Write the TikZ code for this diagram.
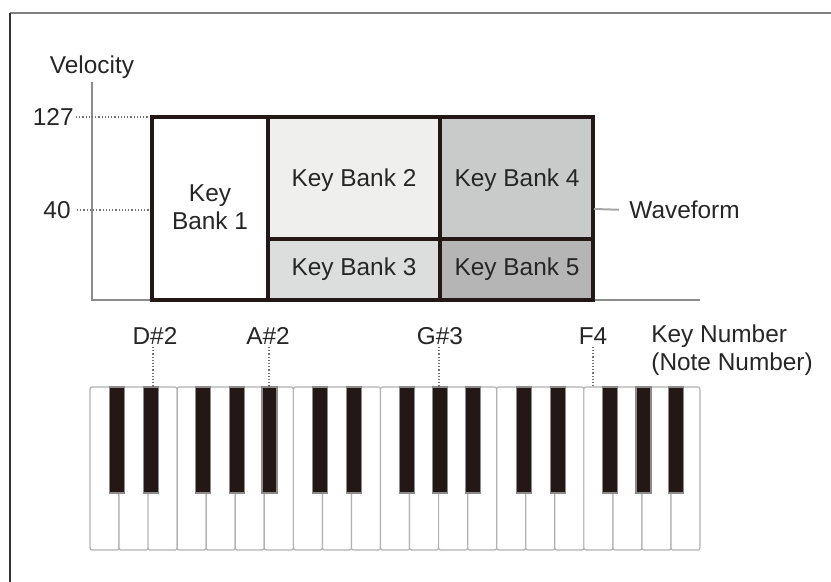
\documentclass[tikz,border=0pt]{standalone}
\usepackage{fontspec}
\setmainfont{Liberation Sans}
\usetikzlibrary{positioning}
\definecolor{inkblack}{HTML}{231815}
\definecolor{bankB}{HTML}{EFEFEE}
\definecolor{bankC}{HTML}{DCDDDD}
\definecolor{bankD}{HTML}{C9CACA}
\definecolor{bankE}{HTML}{B5B5B6}
\begin{document}
\begin{tikzpicture}[x=0.5pt, y=-0.5pt, font=\fontsize{12.2}{14}\selectfont,
    framel/.style={line width=1pt, black!50},
    axis/.style={line width=1pt, black!45},
    bankbox/.style={draw=inkblack, line width=2pt},
    guide/.style={densely dotted, black!55, line width=0.6pt},
    whitekey/.style={draw=black!30, fill=white, line width=0.6pt, rounded corners=1pt},
    blackkey/.style={draw=black!45, fill=inkblack, line width=0.6pt},
    lbl/.style={inner sep=1pt, text=black!85}]
  \useasboundingbox (0,0) rectangle (831,582);
  % frame
  \draw[framel] (10,13) -- (831,13);
  \draw[line width=0.8pt, black!80] (10,13) -- (10,582);
  % axes
  \coordinate (ax0) at (92,300);
  \coordinate (axtop) at (92,82);
  \coordinate (axend) at (700,300);
  \draw[axis] (axtop) -- (ax0) -- (axend);
  \node[lbl] (vel) at (92,67) {Velocity};
  \node[lbl, anchor=east] (v127) at (76,117) {127};
  \node[lbl, anchor=east] (v40) at (73,210) {40};
  \coordinate (t127) at (152,117);
  \coordinate (t40) at (152,210);
  \draw[guide] (v127.east) -- (t127);
  \draw[guide] (v40.east) ++(4,0) -- (t40);
  % key banks
  \draw[bankbox, fill=white] (152,117) rectangle (268,300);
  \draw[bankbox, fill=bankB] (268,117) rectangle (440,239);
  \draw[bankbox, fill=bankC] (268,239) rectangle (440,300);
  \draw[bankbox, fill=bankD] (440,117) rectangle (593,239);
  \draw[bankbox, fill=bankE] (440,239) rectangle (593,300);
  \node[lbl, align=center] (kb1) at (210,207) {Key\\Bank 1};
  \node[lbl] (kb2) at (354,180) {Key Bank 2};
  \node[lbl] (kb3) at (354,269) {Key Bank 3};
  \node[lbl] (kb4) at (517,180) {Key Bank 4};
  \node[lbl] (kb5) at (517,269) {Key Bank 5};
  \node[lbl, anchor=west] (wave) at (627,210) {Waveform};
  \coordinate (wv) at (594,209);
  \draw[line width=1pt, black!35, shorten >=4pt] (wv) -- (wave.west);
  % keyboard
  \foreach \i in {0,...,20}
    \draw[whitekey] (90+\i*29.05,387) rectangle (90+\i*29.05+29.05,550);
  \foreach \o in {0,1,2}
    \foreach \b in {0.93,2.1,3.9,5.05,6.18}
      \draw[blackkey] (90+7*\o*29.05+\b*29.05-7.5,387) rectangle (90+7*\o*29.05+\b*29.05+7.5,493);
  % key numbers
  \node[lbl] (kD) at (155,336) {D\#2};
  \node[lbl] (kA) at (268,336) {A\#2};
  \node[lbl] (kG) at (440,336) {G\#3};
  \node[lbl] (kF) at (593,336) {F4};
  \coordinate (pD) at (153,387);
  \coordinate (pA) at (269,387);
  \coordinate (pG) at (439,387);
  \coordinate (pF) at (593,387);
  \draw[guide] (kD.south -| pD) -- (pD);
  \draw[guide] (kA.south -| pA) -- (pA);
  \draw[guide] (kG.south -| pG) -- (pG);
  \draw[guide] (kF.south -| pF) -- (pF);
  \node[lbl, anchor=north west, align=left] (knum) at (649,322) {Key Number\\(Note Number)};
\end{tikzpicture}
\end{document}
